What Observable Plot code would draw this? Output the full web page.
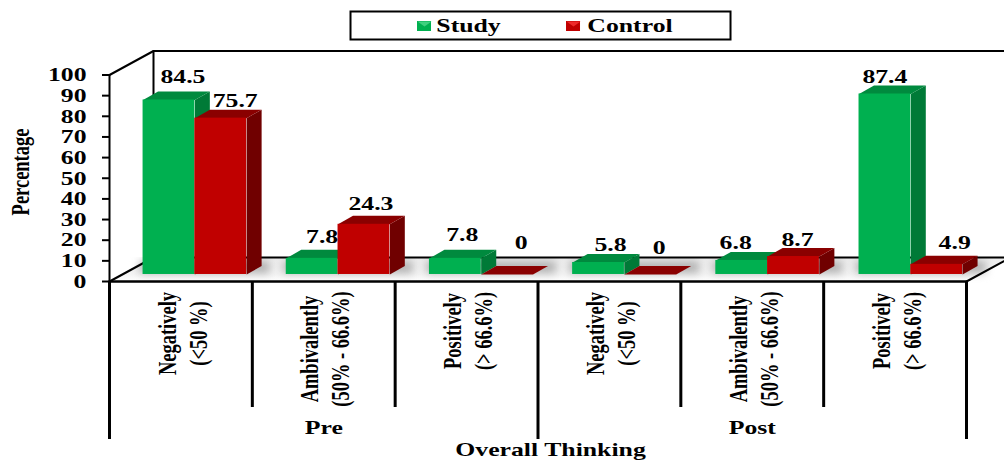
<!DOCTYPE html>
<html>
<head>
<meta charset="utf-8">
<script src="https://cdn.jsdelivr.net/npm/d3@7"></script>
<script src="https://cdn.jsdelivr.net/npm/@observablehq/plot@0.6"></script>
<style>html,body{margin:0;padding:0;background:#fff;overflow:hidden}</style>
</head>
<body>
<div id="chart"></div>
<script>
const categoryLine1 = ["Negatively", "Ambivalently", "Positively", "Negatively", "Ambivalently", "Positively"];
const categoryLine2 = ["(<50 %)", "(50% - 66.6%)", "(> 66.6%)", "(<50 %)", "(50% - 66.6%)", "(> 66.6%)"];
const groups = ["Pre", "Post"];
const seriesNames = ["Study", "Control"];
const study = [84.5, 7.8, 7.8, 5.8, 6.8, 87.4];
const control = [75.7, 24.3, 0, 0, 8.7, 4.9];
const yTicks = [0, 10, 20, 30, 40, 50, 60, 70, 80, 90, 100];

// Drawing constants (scale units: x = category slots, y = percent)
const pxX = 142.83, pxY = 2.065;
const sx = p => (p - 109) / pxX, sy = p => (281 - p) / pxY;
const base = 3.4, barLeft = 0.235, barW = 0.3625, depX = 15 / pxX, depY = 8.5 / pxY, slotDrift = 0.0025;
const wallX = 44 / pxX, wallY = 24 / pxY;
const colors = {
  Study: {front: "#00B050", side: "#007A37", top: "#008A3E", light: "#3fd07f"},
  Control: {front: "#C00000", side: "#700000", top: "#8A0000", light: "#ee2a2a"}
};
// hand-placed value labels in the reference: [px right of bar centre, px baseline above bar top]
const nudges = {
  Study: [[14, 17], [10, 15], [7, 17], [12, 12], [-6, 11], [0, 11.5]],
  Control: [[14.5, 11], [7, 14], [14, 26], [9, 21], [4, 10.5], [18, 15]]
};
const poly = (pts, fill, extra = {}) =>
  Plot.line(pts.map(([x, y]) => ({x, y})), {x: "x", y: "y", fill, stroke: "none", ...extra});
const seg = (pts, strokeWidth = 2) =>
  Plot.line(pts.map(([x, y]) => ({x, y})), {x: "x", y: "y", stroke: "#000", strokeWidth});

const defs = () => {
  const d = d3.create("svg:defs");
  const g = d.append("linearGradient").attr("id", "floor").attr("x1", 0).attr("x2", 0).attr("y1", 0).attr("y2", 1);
  g.append("stop").attr("offset", "0%").attr("stop-color", "#ececec");
  g.append("stop").attr("offset", "70%").attr("stop-color", "#f4f4f4");
  g.append("stop").attr("offset", "100%").attr("stop-color", "#ffffff");
  return d.node();
};

const barMarks = [];
const valueLabels = [];
const shadows = [];
categoryLine1.forEach((_, i) => {
  const start = i * (1 + slotDrift) + barLeft;
  shadows.push({x1: start - 0.02, x2: start + 2 * barW + depX + 0.06, y1: base + 0.5, y2: wallY - 2});
  seriesNames.forEach((name, s) => {
    const v = (s === 0 ? study : control)[i];
    const x1 = start + s * barW, x2 = x1 + barW, top = base + v, c = colors[name];
    barMarks.push(
      poly([[x2, base], [x2 + depX, base + depY], [x2 + depX, top + depY], [x2, top]], c.side),
      poly([[x1, top], [x2, top], [x2 + depX, top + depY], [x1 + depX, top + depY]], c.top)
    );
    if (v > 0) barMarks.push(Plot.rect([{x1, x2, y1: base, y2: top}], {x1: "x1", x2: "x2", y1: "y1", y2: "y2", fill: c.front}));
    const [nx, ny] = nudges[name][i];
    valueLabels.push({x: (x1 + x2) / 2 + nx / pxX, y: top + (ny + 6.2) / pxY, label: String(v)});
  });
});

const dividers = d3.range(0, 7).map(i => ({x: i, long: i % 3 === 0}));
const catRows = categoryLine1.map((a, i) => ({
  i, a, b: categoryLine2[i],
  yc: a === "Ambivalently" ? sy(348.5) : a === "Positively" ? sy(330.5) : sy(333)
}));

const legendX = [[417, 468], [566, 629.5]];
const legendMarks = [
  Plot.rect([0], {x1: sx(350.5), x2: sx(730.5), y1: sy(39.5), y2: sy(11.5), fill: "#fff", stroke: "#000", strokeWidth: 2})
];
seriesNames.forEach((name, s) => {
  const [l, t] = legendX[s], c = colors[name];
  legendMarks.push(
    Plot.rect([0], {x1: sx(l), x2: sx(l + 14), y1: sy(31), y2: sy(21), fill: c.front}),
    poly([[sx(l), sy(21)], [sx(l + 14), sy(21)], [sx(l + 7), sy(26)]], c.light),
    Plot.text([name], {x: sx(t), y: sy(25), text: d => d})
  );
});

const plot = Plot.plot({
  width: 1004, height: 460,
  marginLeft: 109, marginRight: 38, marginTop: 74.5, marginBottom: 179,
  x: {domain: [0, 6], axis: null},
  y: {domain: [0, 100], axis: null},
  style: {fontFamily: "'Liberation Serif', serif", fontWeight: "bold", fontSize: "19.5px", color: "#000", background: "#fff", overflow: "hidden"},
  marks: [
    defs,
    poly([[0, 0], [6, 0], [6 + wallX, wallY], [wallX, wallY]], "url(#floor)"),
    Plot.rect(shadows, {x1: "x1", x2: "x2", y1: "y1", y2: "y2", fill: "#b0b0b0", imageFilter: "blur(4px)"}),
    Plot.rect([0], {x1: sx(109), x2: sx(1004), y1: wallY, y2: 40, fill: "#fff"}),
    seg([[0, 100], [wallX, 100 + wallY], [7, 100 + wallY]]),
    seg([[wallX, 100 + wallY], [wallX, wallY], [7, wallY]]),
    seg([[0, 0], [wallX, wallY]]),
    seg([[6, 0], [6 + wallX, wallY]]),
    ...barMarks,
    seg([[0, 0], [0, 100]]),
    seg([[0, 0], [6, 0]], 2.5),
    Plot.axisY({ticks: yTicks, tickSize: 7, tickPadding: 16, label: null, strokeWidth: 2, stroke: "#000", tickFormat: d => String(d)}),
    Plot.ruleX(dividers, {x: "x", y1: 0, y2: d => d.long ? sy(439) : sy(407), stroke: "#000", strokeWidth: 3}),
    Plot.text(valueLabels, {x: "x", y: "y", text: "label"}),
    Plot.text(catRows, {x: d => d.i + 0.404, y: "yc", text: "a", rotate: -90, fontSize: 26, className: "vert"}),
    Plot.text(catRows, {x: d => d.i + 0.621, y: "yc", text: "b", rotate: -90, fontSize: 26, className: "vert"}),
    Plot.text(["Percentage"], {x: sx(20), y: sy(171.5), text: d => d, rotate: -90, fontSize: 26, className: "vert"}),
    Plot.text(groups, {x: (d, i) => 1.5 + 3 * i, y: sy(427), text: d => d}),
    Plot.text(["Overall Thinking"], {x: sx(550), y: sy(449.5), text: d => d}),
    ...legendMarks
  ]
});
document.getElementById("chart").appendChild(plot);

// The reference image is stretched horizontally: widen horizontal text, narrow rotated text.
plot.querySelectorAll("text").forEach(t => {
  const k = t.closest(".vert") ? 0.71 : 1.32;
  const len = t.getComputedTextLength();
  if (len > 0) {
    t.setAttribute("textLength", (len * k).toFixed(1));
    t.setAttribute("lengthAdjust", "spacingAndGlyphs");
  }
});
</script>
</body>
</html>
